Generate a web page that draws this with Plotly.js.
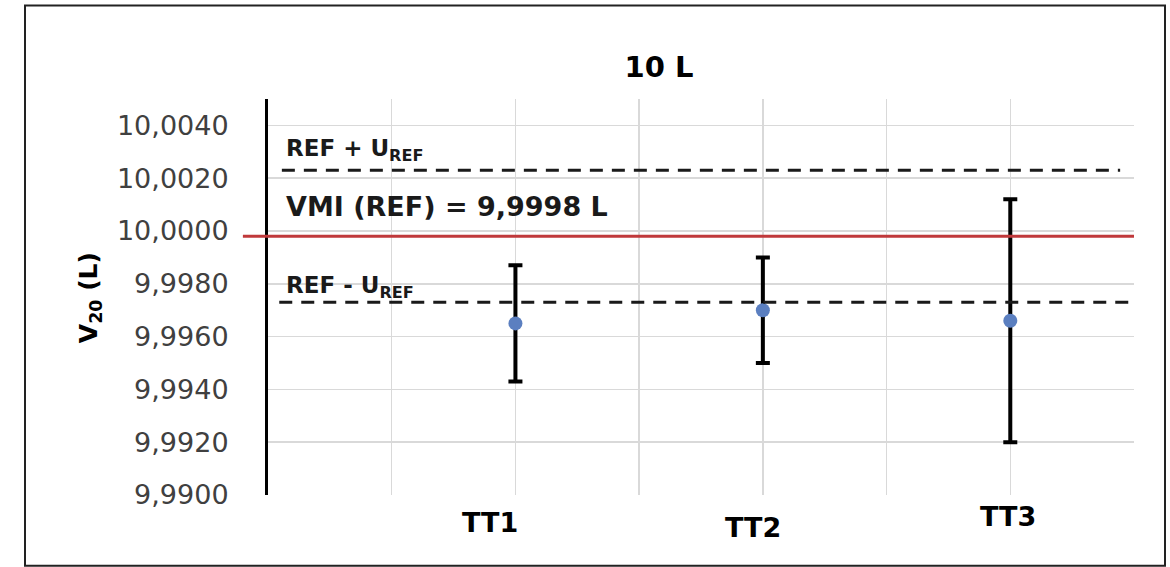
<!DOCTYPE html>
<html>
<head>
<meta charset="utf-8">
<script src="https://cdn.plot.ly/plotly-3.0.1.min.js"></script>
<style>
  html, body { margin: 0; padding: 0; background: #ffffff; }
  #chart { width: 1170px; height: 567px; }
</style>
</head>
<body>
<div id="chart"></div>
<script>
// ---- data ----
const chartTitle = '10 L';
const categories = ['TT1', 'TT2', 'TT3'];
const categoryPos = [2, 4, 6];
const v20 = [9.9965, 9.9970, 9.9966];
const errPlus = [0.0022, 0.0020, 0.0046];
const errMinus = [0.0022, 0.0020, 0.0046];
const refValue = 9.9998;
const uRef = 0.0025;
const yTickStart = 9.9900;
const yTickStep = 0.0020;
const yRange = [9.9900, 10.0050];
const xRange = [0, 7];

// ---- styles ----
const FONT = 'DejaVu Sans, Verdana, sans-serif';
const labelOffsets = [{dx: -25, dy: -27}, {dx: -10, dy: -32}, {dx: -2, dy: -21}];

const trace = {
  type: 'scatter',
  mode: 'markers',
  x: categoryPos,
  y: v20,
  text: categories,
  marker: {color: '#5b7fc0', size: 14},
  error_y: {
    type: 'data', symmetric: false,
    array: errPlus, arrayminus: errMinus,
    color: '#000000', thickness: 4, width: 7
  },
  hoverinfo: 'text+y',
  showlegend: false
};

const fmt = v => v.toFixed(4).replace('.', ',');

const annotations = [
  {text: '<b>REF + U<sub>REF</sub></b>', xref: 'paper', yref: 'paper', x: 0.0185, y: 0.872,
   xanchor: 'left', yanchor: 'middle', showarrow: false, font: {family: FONT, size: 23, color: '#1a1a1a'}},
  {text: '<b>VMI (REF) = ' + fmt(refValue) + ' L</b>', xref: 'paper', yref: 'paper', x: 0.0185, y: 0.728,
   xanchor: 'left', yanchor: 'middle', showarrow: false, font: {family: FONT, size: 27, color: '#1a1a1a'}},
  {text: '<b>REF - U<sub>REF</sub></b>', xref: 'paper', yref: 'paper', x: 0.0185, y: 0.525,
   xanchor: 'left', yanchor: 'middle', showarrow: false, font: {family: FONT, size: 23, color: '#1a1a1a'}},
  {text: '<b>V<sub>20</sub> (L)</b>', xref: 'paper', yref: 'paper', x: -0.2055, y: 0.497,
   xanchor: 'center', yanchor: 'middle', textangle: -90, showarrow: false,
   font: {family: FONT, size: 25, color: '#000000'}}
];
categories.forEach((c, i) => {
  annotations.push({
    text: '<b>' + c + '</b>', xref: 'x', yref: 'paper', x: categoryPos[i], y: 0,
    xanchor: 'center', yanchor: 'middle', xshift: labelOffsets[i].dx, yshift: labelOffsets[i].dy,
    showarrow: false, font: {family: FONT, size: 27, color: '#000000'}
  });
});

const shapes = [
  // outer frame
  {type: 'rect', xref: 'paper', yref: 'paper', x0: -0.2806, x1: 1.0358, y0: -0.1785, y1: 1.236,
   line: {color: '#222222', width: 2}, fillcolor: 'rgba(0,0,0,0)', layer: 'above'},
  // upper uncertainty
  {type: 'line', xref: 'paper', yref: 'y', x0: 0.016, x1: 0.984, y0: refValue + uRef, y1: refValue + uRef,
   line: {color: '#1a1a1a', width: 3, dash: '13px,9px'}},
  // lower uncertainty
  {type: 'line', xref: 'paper', yref: 'y', x0: 0.013, x1: 1.0, y0: refValue - uRef, y1: refValue - uRef,
   line: {color: '#1a1a1a', width: 3, dash: '13px,9px'}},
  // reference value
  {type: 'line', xref: 'paper', yref: 'y', x0: -0.029, x1: 1.0, y0: refValue, y1: refValue,
   line: {color: '#c0393b', width: 3}}
];

const layout = {
  width: 1170, height: 567,
  margin: {l: 268, r: 36, t: 99, b: 72, pad: 0},
  paper_bgcolor: '#ffffff', plot_bgcolor: '#ffffff',
  separators: ', ',
  title: {text: '<b>' + chartTitle + '</b>', xref: 'paper', x: 0.4515, xanchor: 'center',
          yref: 'container', y: 0.882, yanchor: 'middle',
          font: {family: FONT, size: 29, color: '#000000'}},
  xaxis: {range: xRange, tick0: 0, dtick: 1, showticklabels: false, ticks: '',
          showgrid: true, gridcolor: '#d9d9d9', gridwidth: 1.5, zeroline: false, showline: false,
          fixedrange: true},
  yaxis: {range: yRange, tick0: yTickStart, dtick: yTickStep, tickformat: '.4f',
          showgrid: true, gridcolor: '#d9d9d9', gridwidth: 1.5, zeroline: false,
          showline: true, linecolor: '#000000', linewidth: 3, ticks: '',
          ticklabelstandoff: 31,
          tickfont: {family: FONT, size: 27, color: '#404040'}, fixedrange: true},
  annotations: annotations,
  shapes: shapes,
  showlegend: false
};

Plotly.newPlot('chart', [trace], layout, {displayModeBar: false, staticPlot: true});
</script>
</body>
</html>
